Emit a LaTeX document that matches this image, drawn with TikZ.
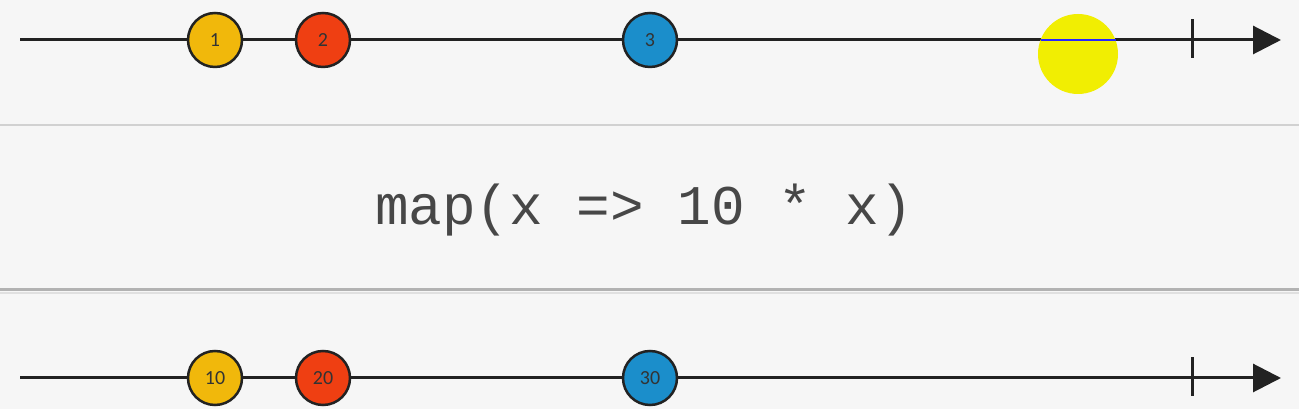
\documentclass[tikz,border=0pt]{standalone}
\usepackage{fontspec}
\newfontfamily\marblefont{Carlito}
\newfontfamily\codefont{Liberation Mono}
\usetikzlibrary{arrows.meta}
\usetikzlibrary{positioning}

\definecolor{paper}{HTML}{F6F6F6}
\definecolor{marbleyellow}{HTML}{F1B80B}
\definecolor{marblered}{HTML}{EF3F12}
\definecolor{marbleblue}{HTML}{1B8ECB}
\definecolor{cursoryellow}{HTML}{F1EE02}
\definecolor{axisblack}{HTML}{222222}

\tikzset{
  timeline/.style={draw=axisblack,line width=3pt,-{Triangle[length=28pt,width=28pt]}},
  marble/.style={circle,draw=axisblack,line width=2.5pt,minimum size=54pt,inner sep=0pt,font=\marblefont\fontsize{20}{20}\selectfont,text=black!80}
}

\begin{document}
\begin{tikzpicture}[x=1pt,y=1pt]
\useasboundingbox (0,0) rectangle (1299,409);
\fill[paper] (0,0) rectangle (1299,409);

% panel separators
\draw[black!18,line width=2pt] (0,284) -- (1299,284);
\draw[black!30,line width=3pt] (0,119) -- (1299,119);
\draw[black!12,line width=2pt] (0,116) -- (1299,116);

% input stream
\coordinate (inStart) at (20,369);
\coordinate (inEnd) at (1281,369);
\draw[timeline] (inStart) -- (inEnd);
\draw[axisblack,line width=3pt] (1192,351) -- (1192,390);
\node[marble,fill=marbleyellow] (in1) at (215,369) {1};
\node[marble,fill=marblered] (in2) at (323,369) {2};
\node[marble,fill=marbleblue] (in3) at (650,369) {3};

% drag cursor
\fill[cursoryellow] (1078,355) circle (40);
\draw[blue!85,line width=2.5pt] (1041,369) -- (1116,369);

% operator
\node[font=\codefont\fontsize{56}{56}\selectfont,text=black!72] (op) at (644,199) {map(x => 10 * x)};

% output stream
\coordinate (outStart) at (20,31);
\coordinate (outEnd) at (1281,31);
\draw[timeline] (outStart) -- (outEnd);
\draw[axisblack,line width=3pt] (1192,13) -- (1192,52);
\node[marble,fill=marbleyellow] (out1) at (215,31) {10};
\node[marble,fill=marblered] (out2) at (323,31) {20};
\node[marble,fill=marbleblue] (out3) at (650,31) {30};
\end{tikzpicture}
\end{document}
